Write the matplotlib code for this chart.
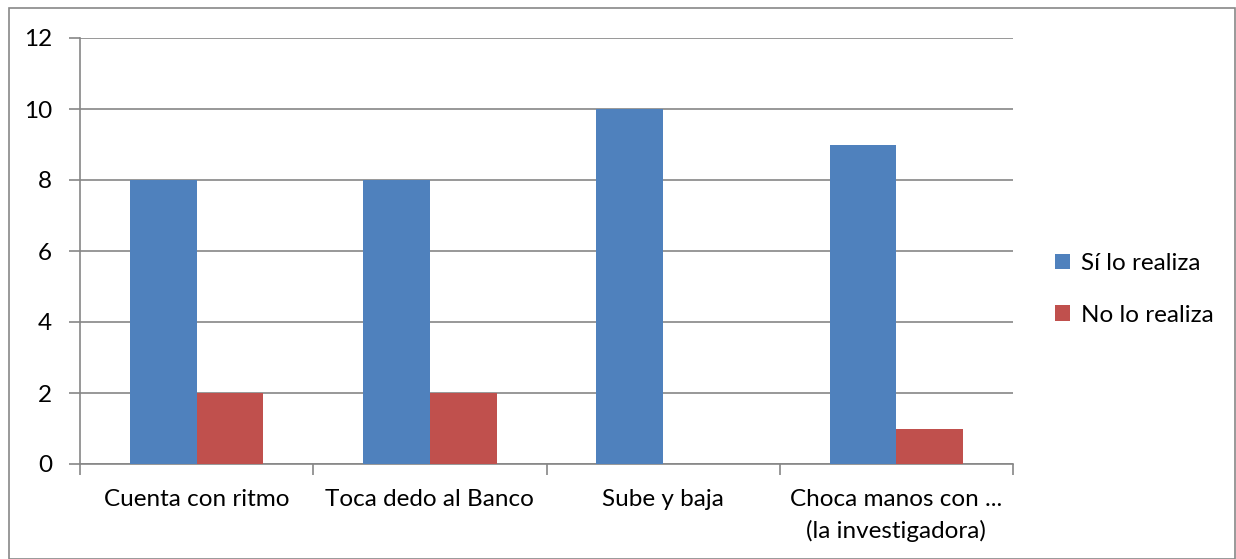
import numpy as np
import matplotlib.pyplot as plt
from matplotlib.patches import Rectangle

categories = ['Cuenta con ritmo', 'Toca dedo al Banco', 'Sube y baja',
              'Choca manos con ...\n(la investigadora)']
si_lo_realiza = [8, 8, 10, 9]
no_lo_realiza = [2, 2, 0, 1]
series_names = ['Sí lo realiza', 'No lo realiza']
colors = ['#4F81BD', '#C0504D']

plt.rcParams['font.family'] = ['Lato', 'DejaVu Sans']
FS = 17.5

fig = plt.figure(figsize=(12.36, 5.59), dpi=100)
ax = fig.add_axes([80/1236, 1-464/559, (1013-80)/1236, (464-38)/559])

# outer chart border
fig.patches.append(Rectangle((9/1236, 0), 1-10/1236, 1-8/559, transform=fig.transFigure,
                             fill=False, edgecolor='#888888', linewidth=1.2))

x = np.arange(len(categories))
w = 0.286
ax.bar(x - w/2, si_lo_realiza, w, color=colors[0], label=series_names[0], zorder=3)
ax.bar(x + w/2, no_lo_realiza, w, color=colors[1], label=series_names[1], zorder=3)

ax.set_xlim(-0.5, len(categories) - 0.5)
ax.set_ylim(0, 12)
ax.set_yticks(range(0, 13, 2))
ax.yaxis.grid(True, color='#868686', linewidth=1.2, zorder=0)
ax.set_axisbelow(True)

# category labels between boundary ticks
ax.set_xticks(np.arange(-0.5, len(categories), 1))
ax.set_xticklabels([])
ax.set_xticks(x, minor=True)
ax.set_xticklabels(categories, minor=True, fontsize=FS, linespacing=1.55)
ax.tick_params(axis='x', which='minor', length=0, pad=18)
ax.tick_params(axis='x', which='major', length=8, width=1.2, color='#868686', direction='out')
ax.tick_params(axis='y', length=8, width=1.2, color='#868686', labelsize=FS, pad=12)

for s in ['top', 'right']:
    ax.spines[s].set_visible(False)
for s in ['left', 'bottom']:
    ax.spines[s].set_color('#868686')
    ax.spines[s].set_linewidth(1.2)

leg = ax.legend(loc='center left', bbox_to_anchor=(1.045, 0.41), frameon=False,
                fontsize=FS, handlelength=0.6, handleheight=0.6, handletextpad=0.45,
                labelspacing=1.25, borderaxespad=0, borderpad=0)

fig.savefig('out.png', dpi=100)
